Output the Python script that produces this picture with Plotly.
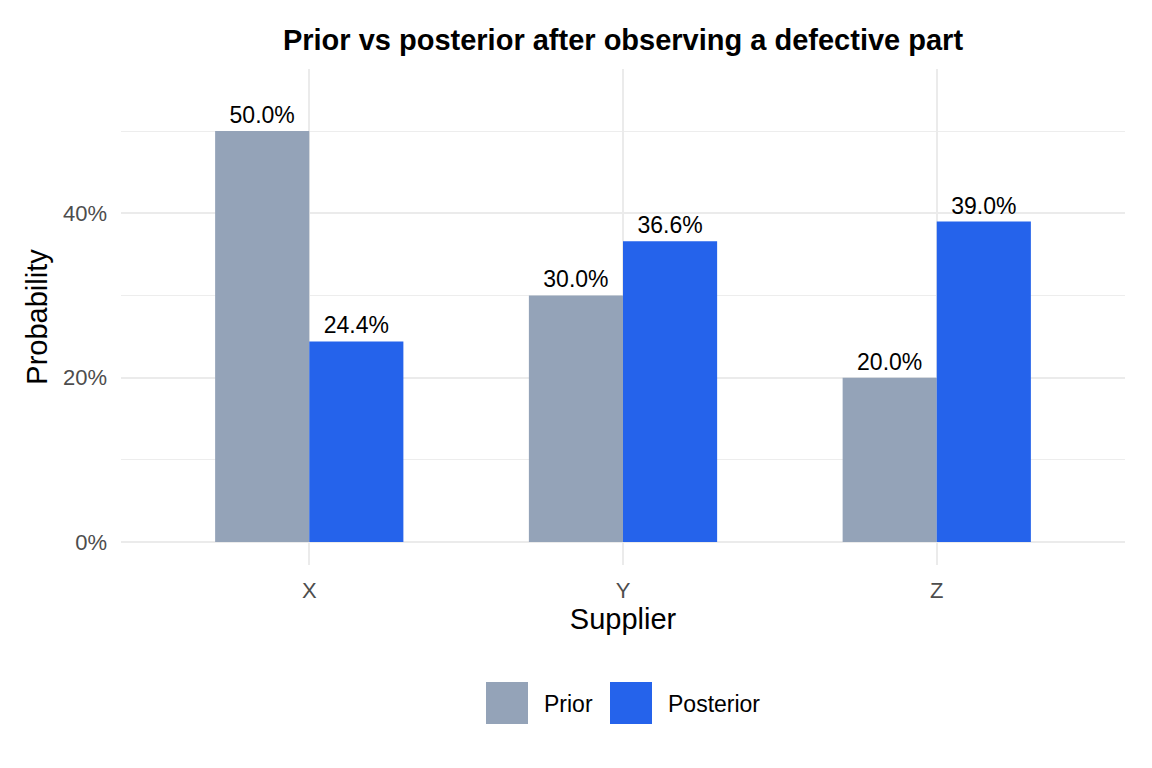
import plotly.graph_objects as go

suppliers = ["X", "Y", "Z"]
prior = [0.50, 0.30, 0.20]
posterior = [0.244, 0.366, 0.390]
series_names = ["Prior", "Posterior"]
colors = ["#94A3B8", "#2563EB"]
y_ticks = [0, 0.2, 0.4]
y_tick_labels = ["0%", "20%", "40%"]

FONT = "Liberation Sans, Arial, sans-serif"

fig = go.Figure()
for name, vals, col in zip(series_names, [prior, posterior], colors):
    fig.add_trace(go.Bar(
        x=suppliers, y=vals, name=name, marker=dict(color=col, line=dict(width=0)),
        text=[f"{v*100:.1f}%" for v in vals], textposition="outside",
        textfont=dict(family=FONT, size=23, color="black"), cliponaxis=False,
        showlegend=False,
    ))

fig.update_layout(
    width=1152, height=768,
    margin=dict(l=121, r=27, t=69, b=203),
    plot_bgcolor="white", paper_bgcolor="white",
    barmode="group", bargap=0.4, bargroupgap=0,
    uniformtext=dict(mode=False),
    title=dict(text="<b>Prior vs posterior after observing a defective part</b>",
               x=0.5, xanchor="center", xref="paper", y=1 - 40 / 768, yref="container",
               yanchor="middle", font=dict(family=FONT, size=29, color="black")),
    font=dict(family=FONT),
)
fig.update_xaxes(
    range=[-0.6, 2.6], showgrid=True, gridcolor="#EBEBEB", gridwidth=1.5,
    zeroline=False, showline=False, ticks="", ticklabelstandoff=10,
    tickfont=dict(family=FONT, size=22, color="#4D4D4D"),
    title=dict(text="Supplier", font=dict(family=FONT, size=29, color="black"), standoff=4),
)
fig.update_yaxes(
    range=[-0.028, 0.5756], tickvals=y_ticks, ticktext=y_tick_labels,
    showgrid=True, gridcolor="#EBEBEB", gridwidth=1.5, zeroline=False, showline=False,
    ticks="", ticklabelstandoff=13,
    tickfont=dict(family=FONT, size=22, color="#4D4D4D"),
    minor=dict(tickvals=[0.1, 0.3, 0.5], showgrid=True, gridcolor="#EDEDED", gridwidth=1),
    title=dict(text="Probability", font=dict(family=FONT, size=29, color="black"), standoff=6),
)

# legend drawn as swatches in paper coordinates
pw, ph = 1152 - 121 - 27, 768 - 69 - 203
def px(x):
    return (x - 121) / pw
def py(y):
    return (768 - 203 - y) / ph
legend_x = [486, 610]
for name, col, lx in zip(series_names, colors, legend_x):
    fig.add_shape(type="rect", xref="paper", yref="paper",
                  x0=px(lx), x1=px(lx + 42), y0=py(724), y1=py(682),
                  fillcolor=col, line=dict(width=0))
    fig.add_annotation(text=name, xref="paper", yref="paper", x=px(lx + 56), y=py(704),
                       xanchor="left", yanchor="middle", showarrow=False,
                       font=dict(family=FONT, size=23, color="black"))

fig.write_html("out.html")
